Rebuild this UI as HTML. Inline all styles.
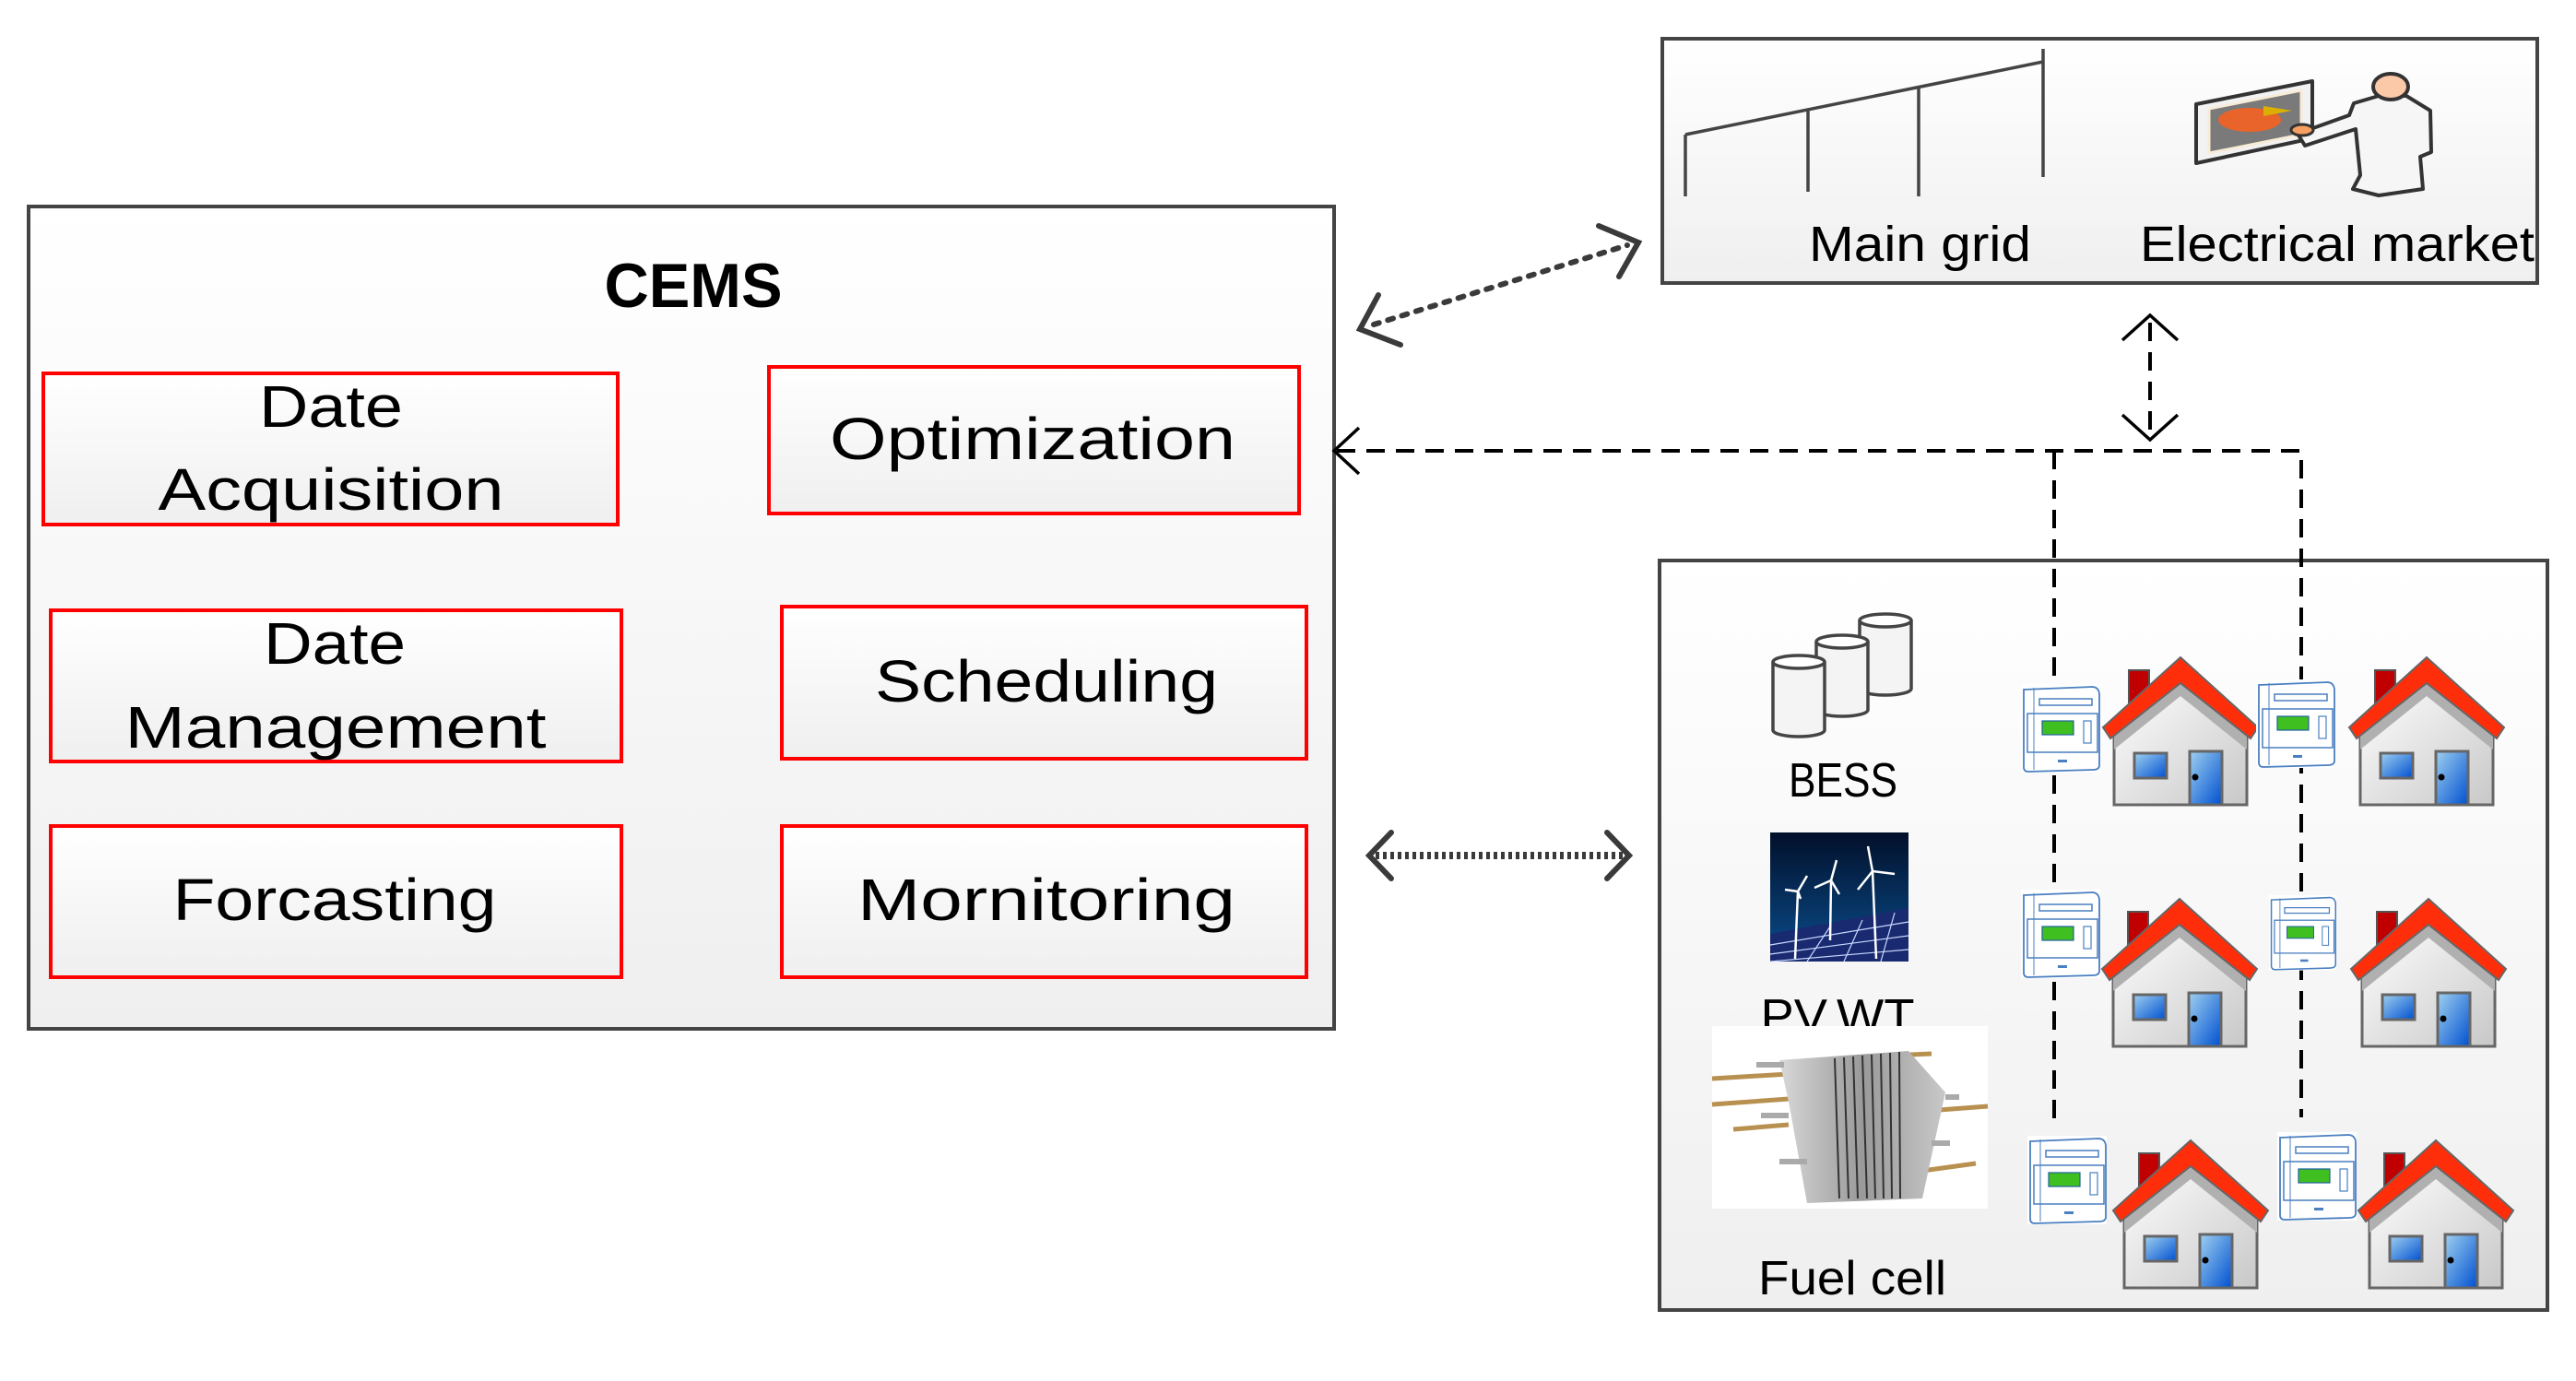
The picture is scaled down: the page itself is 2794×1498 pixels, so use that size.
<!DOCTYPE html>
<html><head><meta charset="utf-8"><style>
html,body{margin:0;padding:0;background:#fff;}
svg{display:block;}
text{font-family:"Liberation Sans",sans-serif;fill:#000;}
</style></head><body>
<svg width="2794" height="1498" viewBox="0 0 2794 1498" xmlns="http://www.w3.org/2000/svg">
<defs>
<linearGradient id="bg" x1="0" y1="0" x2="0" y2="1"><stop offset="0" stop-color="#ffffff"/><stop offset="1" stop-color="#efefef"/></linearGradient>
<linearGradient id="wall" x1="0" y1="0" x2="1" y2="1"><stop offset="0" stop-color="#ffffff"/><stop offset="1" stop-color="#c8c8c8"/></linearGradient>
<linearGradient id="blue" x1="0" y1="0" x2="1" y2="1"><stop offset="0" stop-color="#9fd0f0"/><stop offset="1" stop-color="#0050d0"/></linearGradient>
<linearGradient id="sky" x1="0" y1="0" x2="0" y2="1"><stop offset="0" stop-color="#02102a"/><stop offset="1" stop-color="#0a4e8e"/></linearGradient>
<linearGradient id="metal" x1="0" y1="0" x2="1" y2="0"><stop offset="0" stop-color="#d8d8d8"/><stop offset="0.5" stop-color="#9a9a9a"/><stop offset="1" stop-color="#c8c8c8"/></linearGradient>
<g id="house">
  <rect x="-56" y="14" width="22" height="40" fill="#c00000" stroke="#555" stroke-width="2"/>
  <polygon points="-72,84 0,28 72,84 72,160 -72,160" fill="url(#wall)" stroke="#666" stroke-width="3"/>
  <polygon points="-72,84 0,28 72,84 72,100 0,42 -72,100" fill="#b0b0b0"/>
  <polygon points="-84,76 0,0 84,76 76,88 0,28 -76,88" fill="#ff2e0a" stroke="#666" stroke-width="2"/>
  <rect x="-50" y="104" width="35" height="27" fill="url(#blue)" stroke="#666" stroke-width="3"/>
  <rect x="10" y="102" width="35" height="58" fill="url(#blue)" stroke="#666" stroke-width="3"/>
  <circle cx="16" cy="130" r="3.5" fill="#000"/>
</g>
<g id="meter">
  <rect x="0" y="0" width="86" height="96" fill="#fff"/>
  <path d="M3,6 L78,3 Q85,4 85,12 L85,88 Q85,93 78,93 L8,95 Q3,95 3,90 Z" fill="#fff" stroke="#4a7fc0" stroke-width="1.8"/>
  <rect x="20" y="16" width="57" height="7" fill="none" stroke="#4a7fc0" stroke-width="1.5"/>
  <rect x="7" y="32" width="76" height="42" fill="none" stroke="#4a7fc0" stroke-width="1.5"/>
  <rect x="23" y="40" width="34" height="15" fill="#40c020" stroke="#2060a0" stroke-width="1.2"/>
  <rect x="68" y="40" width="8" height="24" fill="none" stroke="#4a7fc0" stroke-width="1.2"/>
  <line x1="14" y1="4" x2="14" y2="93" stroke="#4a7fc0" stroke-width="1"/>
  <rect x="40" y="82" width="10" height="3" fill="#4a7fc0"/>
</g>
<g id="cyl">
  <path d="M0,0 L0,74 A28,7 0 0 0 56,74 L56,0" fill="#f4f4f4" stroke="#444" stroke-width="3.5"/>
  <ellipse cx="28" cy="0" rx="28" ry="7" fill="#fff" stroke="#444" stroke-width="3.5"/>
</g>
</defs>

<!-- CEMS box -->
<rect x="31" y="224" width="1416" height="892" fill="url(#bg)" stroke="#444" stroke-width="4"/>
<text x="752" y="333" font-size="68" font-weight="bold" text-anchor="middle" textLength="193" lengthAdjust="spacingAndGlyphs">CEMS</text>

<g fill="url(#bg)" stroke="#ff0000" stroke-width="4">
<rect x="47" y="405" width="623" height="164"/>
<rect x="834" y="398" width="575" height="159"/>
<rect x="55" y="662" width="619" height="164"/>
<rect x="848" y="658" width="569" height="165"/>
<rect x="55" y="896" width="619" height="164"/>
<rect x="848" y="896" width="569" height="164"/>
</g>
<g font-size="64" text-anchor="middle">
<text x="359" y="463" textLength="156" lengthAdjust="spacingAndGlyphs">Date</text>
<text x="359" y="553" textLength="375" lengthAdjust="spacingAndGlyphs">Acquisition</text>
<text x="1120" y="498" textLength="440" lengthAdjust="spacingAndGlyphs">Optimization</text>
<text x="363" y="720" textLength="154" lengthAdjust="spacingAndGlyphs">Date</text>
<text x="364" y="811" textLength="457" lengthAdjust="spacingAndGlyphs">Management</text>
<text x="1135" y="761" textLength="372" lengthAdjust="spacingAndGlyphs">Scheduling</text>
<text x="363" y="998" textLength="351" lengthAdjust="spacingAndGlyphs">Forcasting</text>
<text x="1135" y="998" textLength="410" lengthAdjust="spacingAndGlyphs">Mornitoring</text>
</g>

<!-- Top box -->
<rect x="1803" y="42" width="949" height="265" fill="url(#bg)" stroke="#444" stroke-width="4"/>
<g stroke="#444" stroke-width="3.5" fill="none">
<line x1="1828" y1="146" x2="2216" y2="67"/>
<line x1="2216" y1="53" x2="2216" y2="192"/>
<line x1="1828" y1="146" x2="1828" y2="213"/>
<line x1="1961" y1="119" x2="1961" y2="208"/>
<line x1="2081" y1="95" x2="2081" y2="213"/>
</g>
<!-- market icon -->
<g stroke="#333" stroke-width="4" stroke-linejoin="round">
<polygon points="2382,113 2508,88 2508,150 2382,177" fill="#f2f2f2"/>
<polygon points="2396,118 2496,98 2496,146 2396,166" fill="#7a7a7a" stroke="#f8ecd8" stroke-width="3"/>
<ellipse cx="2440" cy="130" rx="34" ry="13" fill="#e8642a" stroke="none"/>
<polygon points="2455,115 2486,120 2455,126" fill="#dcb000" stroke="none"/>
<path d="M2553,112 L2580,104 L2610,104 L2636,120 L2637,165 L2625,170 L2628,205 L2580,212 L2552,205 L2560,190 L2555,140 L2500,158 L2492,145 L2548,125 Z" fill="#f6f6f6"/>
<ellipse cx="2593" cy="94" rx="19" ry="14" fill="#fbc8a8"/>
<ellipse cx="2497" cy="141" rx="12" ry="6" fill="#f5a060" stroke-width="3"/>
</g>
<text x="1962" y="283" font-size="54" textLength="241" lengthAdjust="spacingAndGlyphs">Main grid</text>
<text x="2321" y="283" font-size="54" textLength="428" lengthAdjust="spacingAndGlyphs">Electrical market</text>

<!-- Bottom box -->
<rect x="1800" y="608" width="963" height="813" fill="url(#bg)" stroke="#444" stroke-width="4"/>

<!-- BESS -->
<use href="#cyl" x="2017" y="673"/>
<use href="#cyl" x="1970" y="696"/>
<use href="#cyl" x="1923" y="718"/>
<text x="1999" y="864" font-size="52" text-anchor="middle" textLength="118" lengthAdjust="spacingAndGlyphs">BESS</text>

<!-- PV,WT -->
<rect x="1920" y="903" width="150" height="140" fill="url(#sky)"/>
<polygon points="1920,1013 2070,985 2070,1043 1920,1043" fill="#1a2a70"/>
<g stroke="#c8d8ff" stroke-width="1.2">
<line x1="1920" y1="1025" x2="2070" y2="1000"/><line x1="1920" y1="1035" x2="2070" y2="1015"/><line x1="1920" y1="1043" x2="2070" y2="1030"/>
<line x1="1960" y1="1043" x2="1985" y2="1005"/><line x1="2000" y1="1043" x2="2020" y2="998"/><line x1="2040" y1="1043" x2="2055" y2="990"/>
</g>
<g stroke="#fff" stroke-width="2.5">
<line x1="1950" y1="967" x2="1947" y2="1040"/><line x1="1950" y1="967" x2="1936" y2="965"/><line x1="1950" y1="967" x2="1960" y2="950"/><line x1="1950" y1="967" x2="1953" y2="975"/>
<line x1="1986" y1="955" x2="1985" y2="1020"/><line x1="1986" y1="955" x2="1968" y2="963"/><line x1="1986" y1="955" x2="1992" y2="933"/><line x1="1986" y1="955" x2="1995" y2="970"/>
<line x1="2031" y1="945" x2="2035" y2="1040"/><line x1="2031" y1="945" x2="2026" y2="918"/><line x1="2031" y1="945" x2="2055" y2="948"/><line x1="2031" y1="945" x2="2015" y2="965"/>
</g>
<text x="1993" y="1120" font-size="52" text-anchor="middle" textLength="167" lengthAdjust="spacingAndGlyphs">PV,WT</text>

<!-- Fuel cell -->
<rect x="1857" y="1113" width="299" height="198" fill="#fff"/>
<g stroke="#b89050" stroke-width="5">
<line x1="1857" y1="1170" x2="1940" y2="1165"/><line x1="1857" y1="1198" x2="1940" y2="1192"/><line x1="1880" y1="1225" x2="1940" y2="1220"/>
<line x1="2050" y1="1145" x2="2095" y2="1143"/><line x1="2090" y1="1205" x2="2156" y2="1200"/><line x1="2085" y1="1270" x2="2143" y2="1262"/>
</g>
<polygon points="1930,1150 2070,1140 2110,1185 2085,1300 1960,1305 1940,1195" fill="url(#metal)"/>
<g stroke="#333" stroke-width="2">
<line x1="1990" y1="1148" x2="1995" y2="1300"/><line x1="2000" y1="1147" x2="2005" y2="1300"/><line x1="2010" y1="1146" x2="2015" y2="1300"/><line x1="2020" y1="1145" x2="2025" y2="1300"/><line x1="2030" y1="1144" x2="2034" y2="1300"/><line x1="2040" y1="1143" x2="2043" y2="1300"/><line x1="2050" y1="1142" x2="2052" y2="1300"/><line x1="2060" y1="1141" x2="2061" y2="1300"/>
</g>
<g stroke="#aaa" stroke-width="6"><line x1="1905" y1="1155" x2="1935" y2="1155"/><line x1="1910" y1="1210" x2="1940" y2="1210"/><line x1="1930" y1="1260" x2="1960" y2="1260"/><line x1="2110" y1="1190" x2="2125" y2="1190"/><line x1="2095" y1="1240" x2="2115" y2="1240"/></g>
<text x="2009" y="1404" font-size="52" text-anchor="middle" textLength="204" lengthAdjust="spacingAndGlyphs">Fuel cell</text>

<!-- Dashed network -->
<g stroke="#000" stroke-width="4" fill="none" stroke-dasharray="20 12">
<polyline points="1450,489 2496,489 2496,1212"/>
<line x1="2228" y1="489" x2="2228" y2="1222"/>
<line x1="2332" y1="350" x2="2332" y2="470"/>
</g>
<g stroke="#000" stroke-width="3.5" fill="none">
<polyline points="1474,464 1447,489 1474,514"/>
<polyline points="2302,369 2332,342 2362,369"/>
<polyline points="2302,450 2332,477 2362,450"/>
</g>

<!-- dotted arrows -->
<g stroke="#3a3a3a" stroke-width="6" stroke-linecap="round" fill="none">
<line x1="1490" y1="352" x2="1765" y2="266" stroke-dasharray="6 10"/>
<polyline points="1495,320 1475,357 1519,374"/>
<polyline points="1734,245 1777,263 1756,300"/>
<line x1="1492" y1="928" x2="1760" y2="928" stroke-dasharray="4 4" stroke-width="8" stroke-linecap="butt"/>
<polyline points="1509,903 1485,928 1509,953" stroke-width="6"/>
<polyline points="1743,903 1767,928 1743,953" stroke-width="6"/>
</g>

<!-- houses and meters -->
<use href="#meter" x="2192" y="742"/>
<use href="#house" x="2365" y="713"/>
<use href="#meter" x="2447" y="737"/>
<use href="#house" x="2632" y="713"/>
<use href="#meter" x="2192" y="965"/>
<use href="#house" x="2364" y="975"/>
<use href="#meter" x="2461" y="971" transform="translate(2461 971) scale(0.85) translate(-2461 -971)"/>
<use href="#house" x="2634" y="975"/>
<use href="#meter" x="2199" y="1232"/>
<use href="#house" x="2376" y="1237"/>
<use href="#meter" x="2470" y="1228"/>
<use href="#house" x="2642" y="1237"/>
</svg>
</body></html>
